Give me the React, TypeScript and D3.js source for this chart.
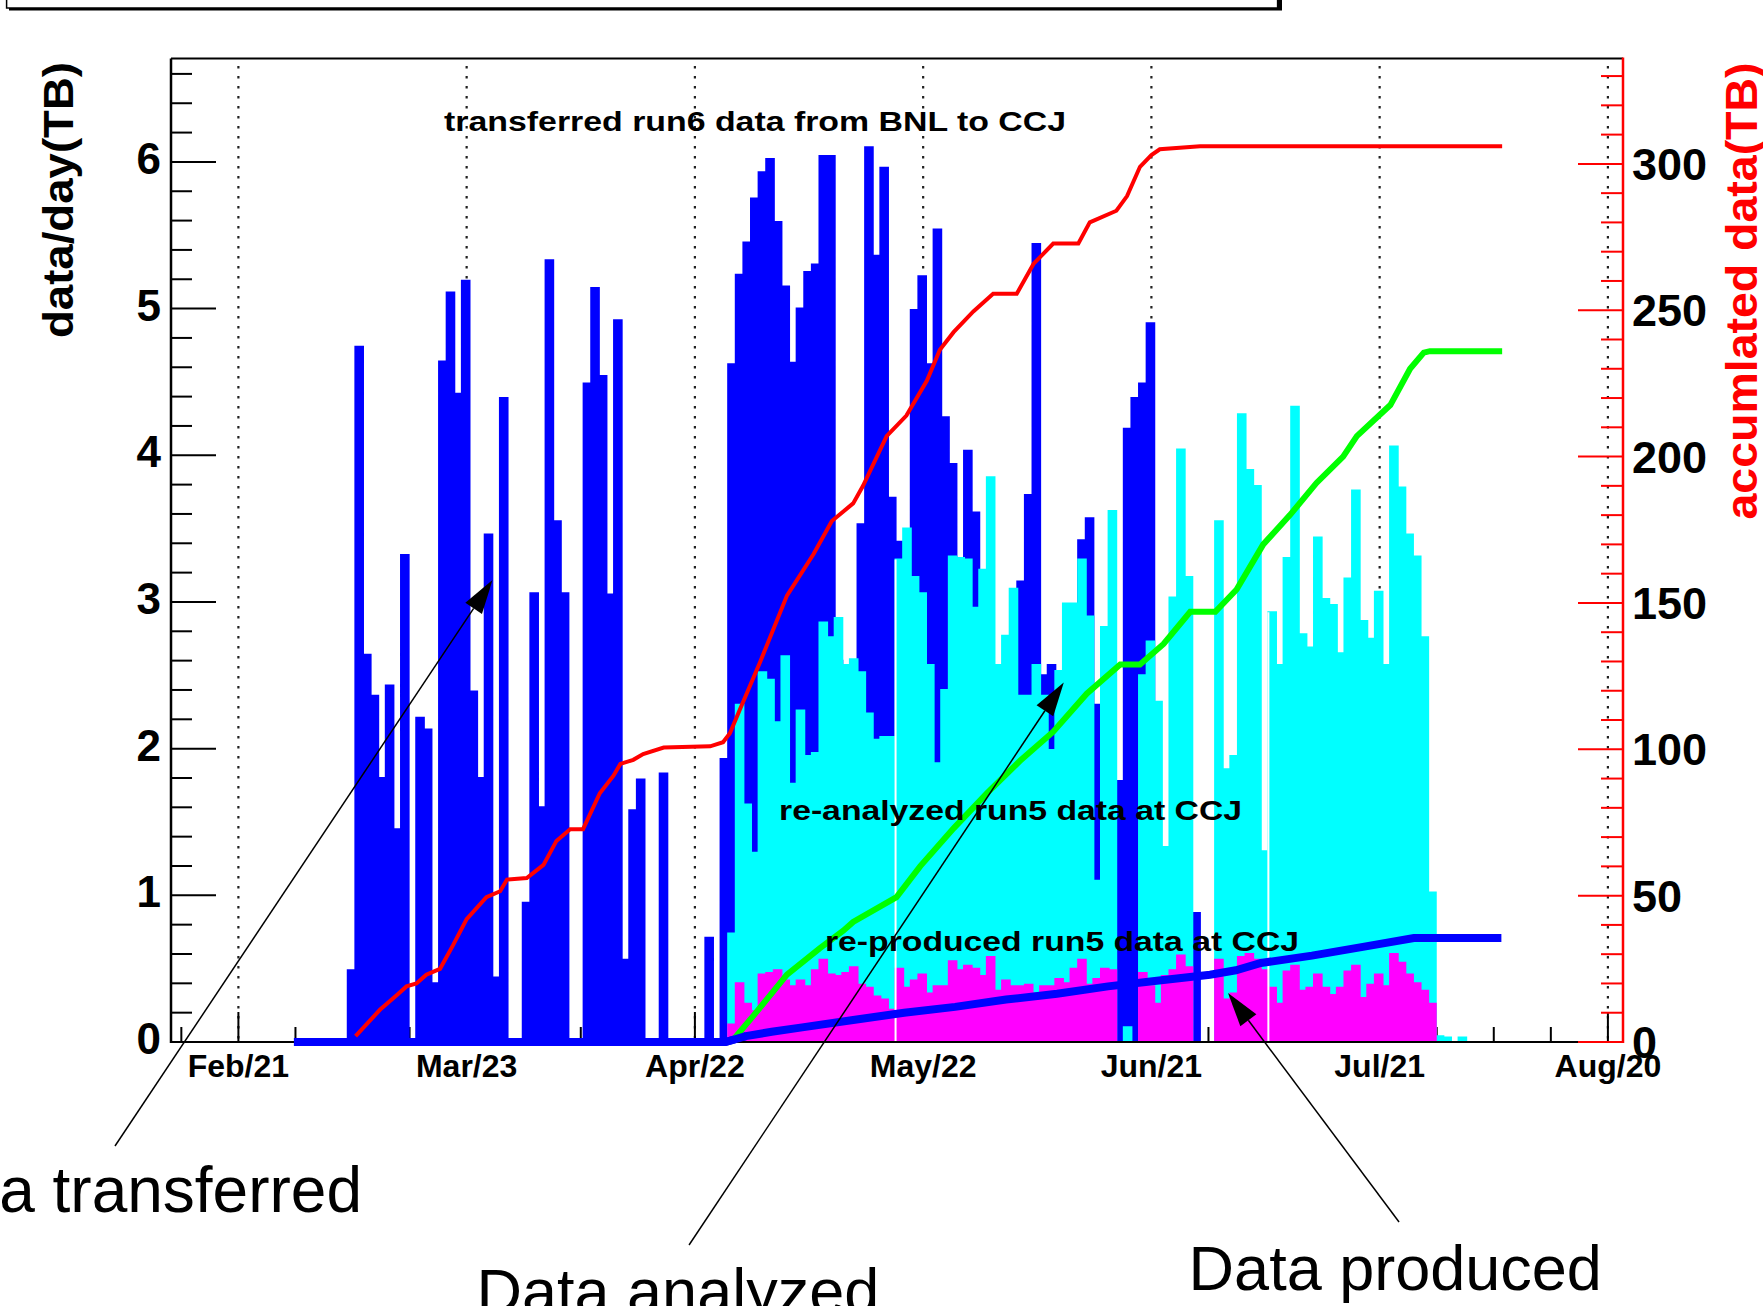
import React, { useRef, useEffect } from 'react';
import * as d3 from 'd3';

// x axis: labelled ticks every 30 days starting here
const axisStart = '2006-02-21';
// daily bins run from 09:00 to 09:00
const binShiftHours = 9;
// histogram range (zero outside the series below)
const histFirst = '2006-02-27';
const histLast = '2006-08-06';

// transferred run6 data from BNL to CCJ, TB/day
const transferStart = '2006-03-07';
const transferred = [
  0.49, 4.74, 2.64, 2.36, 1.8, 2.43, 1.45, 3.32, 0, 2.21,
  2.13, 0.4, 4.64, 5.11, 4.42, 5.19, 2.39, 1.8, 3.46, 0.44,
  4.39, 0, 0, 0.95, 3.06, 1.6, 5.33, 3.55, 3.06, 0,
  0, 4.49, 5.14, 4.54, 3.05, 4.92, 0.56, 1.58, 1.79, 0,
  0, 1.83, 0, 0, 0, 0, 0, 0.71, 0, 1.93,
  4.62, 5.23, 5.45, 5.75, 5.93, 6.02, 5.59, 5.15, 4.63, 5.0,
  5.25, 5.3, 6.04, 6.04, 2.6, 2.4, 2.5, 3.53, 6.1, 5.36,
  5.96, 3.71, 3.41, 0.5, 4.99, 5.22, 4.62, 5.54, 4.26, 3.94,
  1.0, 4.03, 3.61, 1.5, 1.0, 0, 0, 0, 3.14, 3.73,
  5.44, 2.5, 2.57, 0, 0, 0, 3.42, 3.57, 2.3, 0.3,
  0.3, 1.78, 4.18, 4.39, 4.49, 4.9, 0, 0, 0, 0,
  0, 0.88,
];

// re-analyzed run5 data at CCJ, TB/day
const analyzedStart = '2006-04-26';
const analyzed = [
  0.74, 2.3, 1.62, 1.29, 2.52, 2.47, 2.18, 2.63, 1.76, 2.26,
  1.95, 1.97, 2.86, 2.76, 2.89, 2.57, 2.61, 2.52, 2.24, 2.06,
  2.08, 2.08, 3.29, 3.5, 3.17, 3.06, 2.57, 1.9, 2.4, 3.31,
  3.3, 3.29, 2.96, 3.22, 3.85, 2.57, 2.77, 3.09, 2.36, 2.36,
  2.57, 2.36, 1.99, 2.53, 2.99, 2.99, 3.29, 2.9, 1.1, 2.83,
  3.62, 0, 0.1, 0, 2.5, 2.73, 2.32, 1.33, 3.03, 4.04,
  3.17, 0, 0, 0, 3.55, 1.86, 1.95, 4.28, 3.9, 3.79,
  1.3, 2.93, 2.57, 3.3, 4.33, 2.78, 2.69, 3.44, 3.02, 2.98,
  2.65, 3.16, 3.76, 2.87, 2.75, 3.07, 2.57, 4.06, 3.78, 3.46,
  3.31, 2.76, 1.02, 0.04, 0.03, 0, 0.03,
];
const analyzedGaps = ['2006-05-18', '2006-07-06'];

// re-produced run5 data at CCJ, TB/day
const producedStart = '2006-04-26';
const produced = [
  0.12, 0.4, 0.26, 0.21, 0.46, 0.47, 0.49, 0.42, 0.38, 0.42,
  0.38, 0.49, 0.56, 0.46, 0.45, 0.47, 0.51, 0.39, 0.37, 0.31,
  0.29, 0.22, 0.5, 0.37, 0.42, 0.46, 0.33, 0.38, 0.38, 0.55,
  0.49, 0.52, 0.5, 0.45, 0.58, 0.35, 0.42, 0.38, 0.38, 0.39,
  0.33, 0.38, 0.38, 0.43, 0.4, 0.5, 0.56, 0.39, 0.43, 0.5,
  0.49, 0, 0, 0, 0.47, 0.38, 0.26, 0.45, 0.49, 0.59,
  0.51, 0, 0, 0, 0.56, 0.29, 0.33, 0.58, 0.6, 0.56,
  0.49, 0.37, 0.26, 0.48, 0.52, 0.35, 0.37, 0.46, 0.37, 0.32,
  0.37, 0.48, 0.52, 0.3, 0.39, 0.46, 0.38, 0.6, 0.54, 0.46,
  0.4, 0.35, 0.26,
];

// accumulated TB, [days after Feb/21, TB]
const accTransferred: [number, number][] = [
  [15.4, 2], [18.6, 11], [20.8, 16], [22.1, 19], [23.4, 20], [24.7, 23], [26.5, 25],
  [28.2, 33], [30.0, 42], [32.6, 49.5], [34.4, 51.5], [35.3, 55.5], [37.9, 56],
  [40.1, 60.5], [41.8, 68.7], [43.6, 72.7], [45.3, 72.7], [47.5, 85], [49.3, 91],
  [50.2, 95], [51.9, 96.4], [53.2, 98.4], [55.9, 100.6], [62.0, 101], [63.7, 102.4],
  [64.6, 105.5], [65.9, 113.5], [68.6, 130], [72.1, 152.5], [75.6, 166.7], [78.0, 178],
  [80.8, 184], [82.1, 190], [85.2, 207], [87.8, 214], [90.5, 226], [92.2, 236.5],
  [94.0, 242.5], [96.6, 249.6], [99.2, 255.6], [102.3, 255.6], [104.5, 265.8],
  [107.1, 272.8], [110.4, 272.8], [111.9, 280], [115.4, 284], [116.8, 289],
  [118.5, 299], [120.0, 303], [121.1, 305], [126.4, 306], [166.1, 306],
];
const accAnalyzed: [number, number][] = [
  [64.7, 0], [65.1, 1], [67.7, 9], [72.1, 23], [76.4, 32], [79.5, 38], [80.8, 41],
  [86.5, 49.5], [89.6, 60], [94.0, 73], [98.4, 85], [102.7, 96], [107.1, 106],
  [111.5, 119], [115.9, 129], [118.5, 129], [121.6, 136], [125.1, 147], [128.4, 147],
  [131.2, 154.6], [134.7, 170], [138.2, 180], [141.7, 191], [145.2, 200], [147.0, 207],
  [151.4, 217.6], [154.0, 230], [155.8, 235.5], [156.6, 236], [166.1, 236],
];
const accProduced: [number, number][] = [
  [7.3, 0], [64, 0], [66.7, 2], [70.1, 3.5], [74.1, 5], [80.8, 7.5], [87.5, 10],
  [94.2, 12], [100.9, 14.5], [107.6, 16.5], [114.3, 19], [121, 21], [127.7, 23],
  [131.1, 24.5], [134.4, 27], [141.1, 29.5], [147.8, 32.5], [154.5, 35.5], [166, 35.5],
];

const leftTicks = [0, 1, 2, 3, 4, 5, 6];
const rightTicks = [0, 50, 100, 150, 200, 250, 300];

const parse = d3.utcParse('%Y-%m-%d');
const DAY = 864e5;

export default function App() {
  const svgRef = useRef<SVGSVGElement>(null);
  const width = 1763;
  const height = 1306;

  useEffect(() => {
    const svg = d3.select(svgRef.current);
    svg.selectAll('*').remove();

    const L = 171, R = 1623, T = 58.5, B = 1042;
    const font = "'Liberation Sans', Arial, Helvetica, sans-serif";

    const t0 = parse(axisStart)!;
    const x = d3.scaleUtc().domain([t0, d3.utcDay.offset(t0, 180)]).range([238.4, 1607.9]);
    const xd = (d: number) => x(new Date(+t0 + d * DAY));
    const y = d3.scaleLinear().domain([0, 6.705]).range([B, T]);
    const yR = d3.scaleLinear().domain([0, 336]).range([B, T]);

    // top pave (cut off by the page edge), thin shadow under it
    svg.append('rect').attr('x', 9).attr('y', -20).attr('width', 1273).attr('height', 30.5).attr('fill', '#000');
    svg.append('rect').attr('x', 6.6).attr('y', -24).attr('width', 1271).attr('height', 32)
      .attr('fill', '#fff').attr('stroke', '#000').attr('stroke-width', 1.5);

    // dotted grid at labelled days
    const majors = d3.range(0, 181, 30);
    svg.append('g').selectAll('line').data(majors).join('line')
      .attr('x1', d => xd(d)).attr('x2', d => xd(d))
      .attr('y1', 66).attr('y2', B)
      .attr('stroke', '#222').attr('stroke-width', 2.2).attr('stroke-dasharray', '2.5,7.5');

    // bottom ticks
    const xt = d3.range(-7.5, 181, 7.5);
    svg.append('g').selectAll('line').data(xt).join('line')
      .attr('x1', d => xd(d)).attr('x2', d => xd(d))
      .attr('y1', B).attr('y2', d => B - (d % 30 === 0 ? 30 : 15))
      .attr('stroke', '#000').attr('stroke-width', 2);

    // histograms
    const series = (start: string, vals: number[]) => {
      const f = parse(histFirst)!, l = parse(histLast)!, s = parse(start)!;
      const n = Math.round((+l - +f) / DAY) + 1;
      const off = Math.round((+s - +f) / DAY);
      return d3.range(n + 1).map(i => ({
        t: new Date(+f + i * DAY + binShiftHours * 36e5),
        v: vals[Math.min(i, n - 1) - off] ?? 0,
      }));
    };
    const area = d3.area<any>().curve(d3.curveStepAfter)
      .x(p => x(p.t)).y0(B).y1(p => y(p.v));
    const outline = d3.line<any>().curve(d3.curveStepAfter)
      .x(p => x(p.t)).y(p => y(p.v));

    const hists: [string, number[], string][] = [
      [transferStart, transferred, '#0000ff'],
      [analyzedStart, analyzed, '#00ffff'],
      [producedStart, produced, '#ff00ff'],
    ];
    hists.forEach(([start, vals, color]) => {
      const s = series(start, vals);
      svg.append('path').attr('d', area(s)).attr('fill', color);
      svg.append('path').attr('d', outline(s)).attr('fill', 'none')
        .attr('stroke', color).attr('stroke-width', 2);
    });

    // thin white gaps in the re-analyzed histogram
    const aStart = parse(analyzedStart)!;
    analyzedGaps.forEach(g => {
      const tg = parse(g)!;
      const idx = Math.round((+tg - +aStart) / DAY);
      const h = Math.max(analyzed[idx - 1] ?? 0, analyzed[idx] ?? 0);
      const xg = x(new Date(+tg + binShiftHours * 36e5));
      svg.append('line').attr('x1', xg).attr('x2', xg).attr('y1', B).attr('y2', y(h))
        .attr('stroke', '#fff').attr('stroke-width', 2);
    });

    // accumulated curves (right axis)
    const acc = d3.line<[number, number]>().x(p => xd(p[0])).y(p => yR(p[1]));
    svg.append('path').attr('d', acc(accProduced)).attr('fill', 'none')
      .attr('stroke', '#0000ff').attr('stroke-width', 8);
    svg.append('path').attr('d', acc(accAnalyzed)).attr('fill', 'none')
      .attr('stroke', '#00ff00').attr('stroke-width', 6);
    svg.append('path').attr('d', acc(accTransferred)).attr('fill', 'none')
      .attr('stroke', '#ff0000').attr('stroke-width', 4);

    // frame
    svg.append('line').attr('x1', L).attr('x2', R).attr('y1', T).attr('y2', T)
      .attr('stroke', '#000').attr('stroke-width', 2);
    svg.append('line').attr('x1', L).attr('x2', L).attr('y1', T).attr('y2', B + 1)
      .attr('stroke', '#000').attr('stroke-width', 2.5);

    // left axis
    const lt = d3.range(0, 34);
    svg.append('g').selectAll('line').data(lt).join('line')
      .attr('x1', L).attr('x2', i => L + (i % 5 === 0 ? 45 : 21))
      .attr('y1', i => y(i * 0.2)).attr('y2', i => y(i * 0.2))
      .attr('stroke', '#000').attr('stroke-width', 2);
    svg.append('g').selectAll('text').data(leftTicks).join('text')
      .attr('x', 161).attr('y', d => y(d) + 12)
      .attr('text-anchor', 'end').attr('font-family', font).attr('font-weight', 700)
      .attr('font-size', 44).text(d => d);
    svg.append('text').attr('transform', 'translate(73,200) rotate(-90)')
      .attr('text-anchor', 'middle').attr('font-family', font).attr('font-weight', 700)
      .attr('font-size', 42).attr('textLength', 276).attr('lengthAdjust', 'spacingAndGlyphs')
      .text('data/day(TB)');

    // bottom axis
    svg.append('line').attr('x1', L).attr('x2', R).attr('y1', B).attr('y2', B)
      .attr('stroke', '#000').attr('stroke-width', 2);
    // blue accumulated line sits on the axis before it starts rising
    svg.append('path').attr('d', acc(accProduced.slice(0, 3))).attr('fill', 'none')
      .attr('stroke', '#0000ff').attr('stroke-width', 8);
    const fmt = d3.utcFormat('%b/%d');
    svg.append('g').selectAll('text').data(majors).join('text')
      .attr('x', d => xd(d)).attr('y', 1077)
      .attr('text-anchor', 'middle').attr('font-family', font).attr('font-weight', 700)
      .attr('font-size', 32).text(d => fmt(new Date(+t0 + d * DAY)));

    // right axis (accumulated)
    const rt = d3.range(0, 34);
    svg.append('g').selectAll('line').data(rt).join('line')
      .attr('x1', R).attr('x2', i => R - (i % 5 === 0 ? 45 : 22))
      .attr('y1', i => yR(i * 10)).attr('y2', i => yR(i * 10))
      .attr('stroke', '#ff0000').attr('stroke-width', 2);
    svg.append('line').attr('x1', R).attr('x2', R).attr('y1', T - 1).attr('y2', B + 1)
      .attr('stroke', '#ff0000').attr('stroke-width', 2.5);
    svg.append('g').selectAll('text').data(rightTicks).join('text')
      .attr('x', 1632).attr('y', d => yR(d) + 16)
      .attr('font-family', font).attr('font-weight', 700)
      .attr('font-size', 45).text(d => d);
    svg.append('text').attr('transform', 'translate(1757,291) rotate(-90)')
      .attr('text-anchor', 'middle').attr('font-family', font).attr('font-weight', 700)
      .attr('font-size', 44).attr('fill', '#ff0000')
      .attr('textLength', 457).attr('lengthAdjust', 'spacingAndGlyphs')
      .text('accumlated data(TB)');

    // labels inside the frame
    const inLabels: [string, number, number, number][] = [
      ['transferred run6 data from BNL to CCJ', 444, 131, 622],
      ['re-analyzed run5 data at CCJ', 779, 820, 463],
      ['re-produced run5 data at CCJ', 825, 951, 474],
    ];
    svg.append('g').selectAll('text').data(inLabels).join('text')
      .attr('x', d => d[1]).attr('y', d => d[2])
      .attr('font-family', font).attr('font-weight', 700).attr('font-size', 28)
      .attr('textLength', d => d[3]).attr('lengthAdjust', 'spacingAndGlyphs')
      .text(d => d[0]);

    // call-out arrows: tail and tip in data units (days, TB/day)
    const arrows: [number, number, number, number][] = [
      [-16.22, -0.709, 33.4, 3.149],
      [59.23, -1.384, 108.48, 2.451],
      [152.55, -1.227, 130.07, 0.334],
    ];
    arrows.forEach(([d1, v1, d2, v2]) => {
      const x1 = xd(d1), y1 = y(v1), x2 = xd(d2), y2 = y(v2);
      const len = Math.hypot(x2 - x1, y2 - y1);
      const ux = (x2 - x1) / len, uy = (y2 - y1) / len;
      const hl = 34, hw = 10;
      const bx = x2 - ux * hl, by = y2 - uy * hl;
      svg.append('line').attr('x1', x1).attr('y1', y1).attr('x2', bx).attr('y2', by)
        .attr('stroke', '#000').attr('stroke-width', 1.5);
      svg.append('polygon')
        .attr('points', `${x2},${y2} ${bx - uy * hw},${by + ux * hw} ${bx + uy * hw},${by - ux * hw}`)
        .attr('fill', '#000');
    });

    // call-out captions
    const captions: [string, number, number, string, number][] = [
      ['Data transferred', 362, 1212, 'end', 64],
      ['Data analyzed', 476.5, 1313, 'start', 63],
      ['Data produced', 1188.6, 1290, 'start', 63],
    ];
    svg.append('g').selectAll('text').data(captions).join('text')
      .attr('x', d => d[1]).attr('y', d => d[2]).attr('text-anchor', d => d[3])
      .attr('font-family', font).attr('font-size', d => d[4]).text(d => d[0]);
  }, []);

  return (
    <svg
      ref={svgRef}
      width={width}
      height={height}
      style={{ position: 'absolute', left: 0, top: 0, display: 'block', background: '#fff' }}
    />
  );
}
